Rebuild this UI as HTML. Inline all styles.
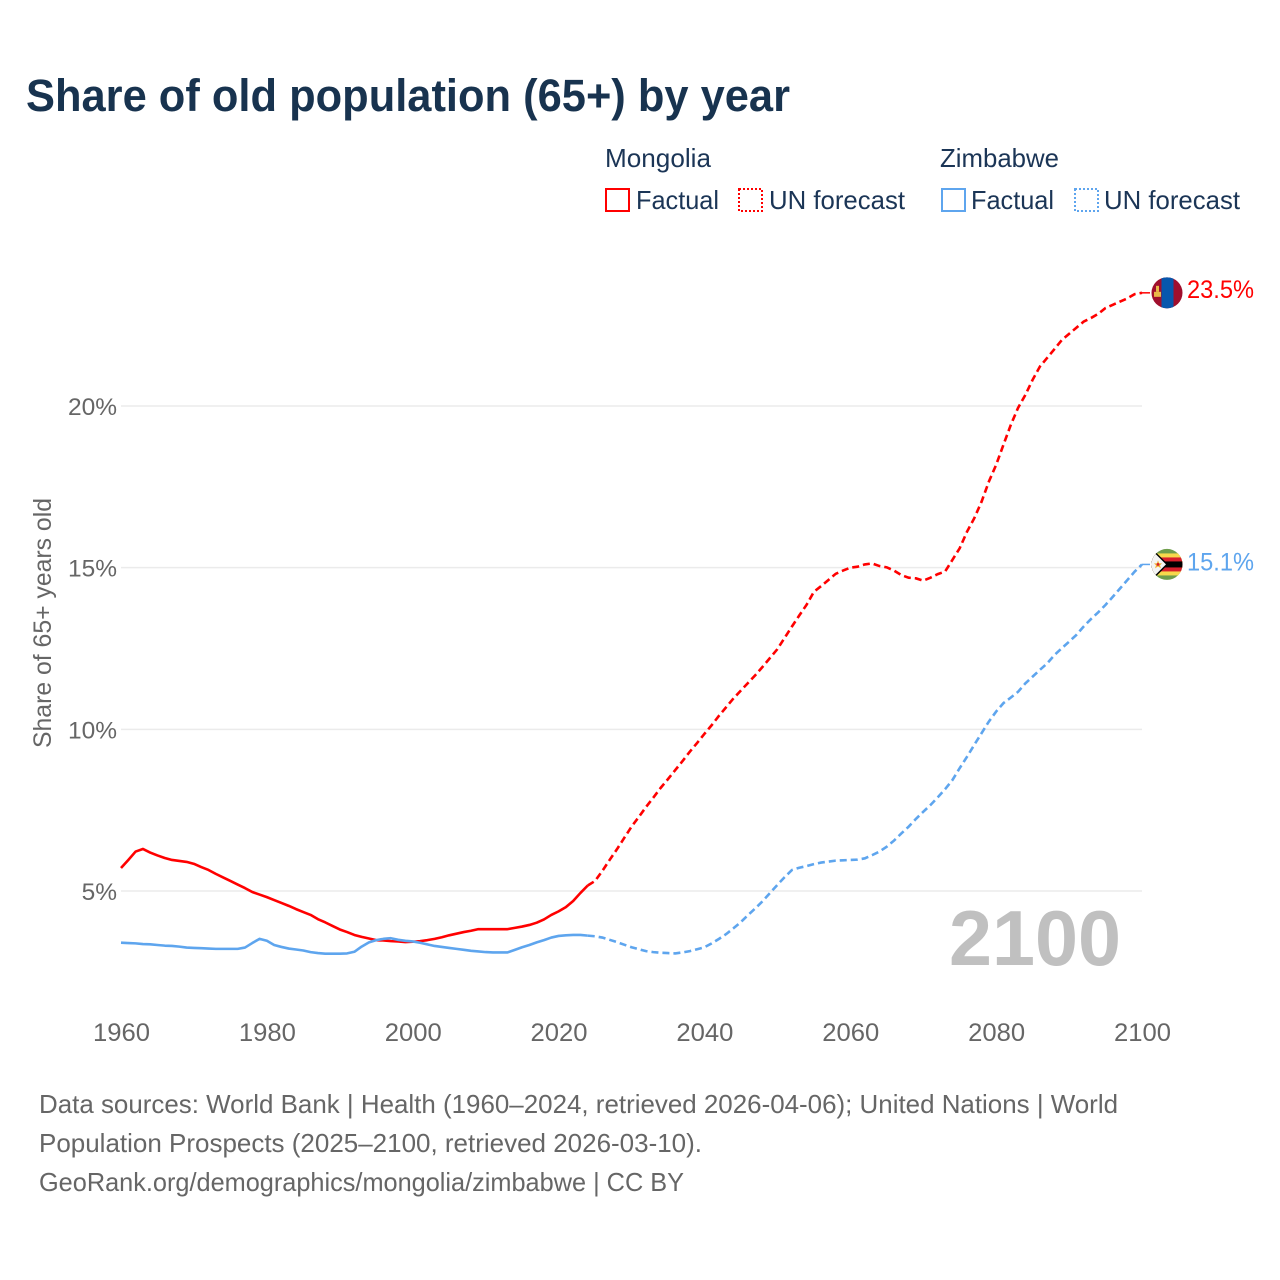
<!DOCTYPE html>
<html lang="en">
<head>
<meta charset="utf-8">
<title>Share of old population (65+) by year</title>
<style>
html,body{margin:0;padding:0;background:#fff;width:1280px;height:1280px;overflow:hidden}
svg{display:block}
text{font-family:"Liberation Sans",sans-serif}
</style>
</head>
<body>
<svg id="chart" xmlns="http://www.w3.org/2000/svg" width="1280" height="1280" viewBox="0 0 1280 1280">
  <rect width="1280" height="1280" fill="#fff"/>
  <text x="26" y="111" font-size="45" font-weight="700" fill="#18334f" textLength="764" lengthAdjust="spacingAndGlyphs">Share of old population (65+) by year</text>

  <g font-size="26" fill="#1b3556">
    <text x="605" y="167" textLength="106" lengthAdjust="spacingAndGlyphs">Mongolia</text>
    <text x="940" y="167" textLength="119" lengthAdjust="spacingAndGlyphs">Zimbabwe</text>
    <rect x="606" y="189" width="23" height="22" fill="none" stroke="#ff0000" stroke-width="2"/>
    <text x="636" y="209" textLength="83" lengthAdjust="spacingAndGlyphs">Factual</text>
    <rect x="739" y="189" width="23" height="22" fill="none" stroke="#ff0000" stroke-width="2" stroke-dasharray="2 2"/>
    <text x="769" y="209" textLength="136" lengthAdjust="spacingAndGlyphs">UN forecast</text>
    <rect x="942" y="189" width="23" height="22" fill="none" stroke="#5ea5ee" stroke-width="2"/>
    <text x="971" y="209" textLength="83" lengthAdjust="spacingAndGlyphs">Factual</text>
    <rect x="1075" y="189" width="23" height="22" fill="none" stroke="#5ea5ee" stroke-width="2" stroke-dasharray="2 2"/>
    <text x="1104" y="209" textLength="136" lengthAdjust="spacingAndGlyphs">UN forecast</text>
  </g>

  <g id="grid"></g>
  <g id="yticks" font-size="25" fill="#666"></g>
  <g id="xticks" font-size="25" fill="#666"></g>

  <text transform="translate(51,623) rotate(-90)" text-anchor="middle" font-size="25" fill="#666" textLength="250" lengthAdjust="spacingAndGlyphs">Share of 65+ years old</text>
  <text x="949" y="965" font-size="78" font-weight="700" fill="#c0c0c0" textLength="172" lengthAdjust="spacingAndGlyphs">2100</text>

  <g id="series"></g>

  <defs>
    <clipPath id="flag-clip"><circle cx="0" cy="0" r="15.5"/></clipPath>
  </defs>
  <g id="flag-mongolia">
    <g clip-path="url(#flag-clip)">
      <rect x="-16" y="-16" width="32" height="32" fill="#a00f2d"/>
      <rect x="-5.5" y="-16" width="12" height="32" fill="#0757ad"/>
      <rect x="-13" y="-1" width="7" height="5" fill="#e9b949"/>
      <rect x="-11" y="-7" width="3" height="6" fill="#e9b949"/>
    </g>
  </g>
  <g id="flag-zimbabwe">
    <g clip-path="url(#flag-clip)">
      <rect x="-16" y="-16" width="32" height="32" fill="#6f9e4c"/>
      <rect x="-16" y="-11" width="32" height="22" fill="#f7d94c"/>
      <rect x="-16" y="-7" width="32" height="14" fill="#d8202c"/>
      <rect x="-16" y="-3" width="32" height="6" fill="#000"/>
      <polygon points="-16,-17 1,0 -16,17" fill="#000"/>
      <polygon points="-16,-15 -1,0 -16,15" fill="#f4f4f4"/>
      <polygon points="-9,-4 -7.8,-1 -5,-1 -7,1 -6,4 -9,2 -12,4 -11,1 -13,-1 -10.2,-1" fill="#f2b233"/>
      <circle cx="-9" cy="0" r="1.4" fill="#d8202c"/>
    </g>
  </g>
  <text id="end-mongolia" x="1187" font-size="25" fill="#ff0000" textLength="67" lengthAdjust="spacingAndGlyphs"></text>
  <text id="end-zimbabwe" x="1187" font-size="25" fill="#5ea5ee" textLength="67" lengthAdjust="spacingAndGlyphs"></text>

  <g font-size="26" fill="#666">
    <text x="39" y="1113" textLength="1079" lengthAdjust="spacingAndGlyphs">Data sources: World Bank | Health (1960–2024, retrieved 2026-04-06); United Nations | World</text>
    <text x="39" y="1152" textLength="663" lengthAdjust="spacingAndGlyphs">Population Prospects (2025–2100, retrieved 2026-03-10).</text>
    <text x="39" y="1191" textLength="645" lengthAdjust="spacingAndGlyphs">GeoRank.org/demographics/mongolia/zimbabwe | CC BY</text>
  </g>
</svg>
<script>
const xTickYears = [1960, 1980, 2000, 2020, 2040, 2060, 2080, 2100];
const xTickLabels = ["1960", "1980", "2000", "2020", "2040", "2060", "2080", "2100"];
const yTickValues = [5, 10, 15, 20];
const yTickLabels = ["5%", "10%", "15%", "20%"];
const factualStartYear = 1960;
const forecastStartYear = 2024;
const mongoliaEndLabel = "23.5%";
const zimbabweEndLabel = "15.1%";

const mongoliaFactual = [
  5.71, 5.96, 6.22, 6.30, 6.19, 6.10, 6.02, 5.96, 5.93, 5.90,
  5.84, 5.74, 5.65, 5.53, 5.42, 5.31, 5.20, 5.09, 4.97, 4.89,
  4.81, 4.72, 4.63, 4.54, 4.44, 4.35, 4.26, 4.13, 4.03, 3.92,
  3.81, 3.73, 3.64, 3.58, 3.53, 3.48, 3.47, 3.45, 3.44, 3.42,
  3.43, 3.45, 3.48, 3.52, 3.57, 3.63, 3.68, 3.73, 3.77, 3.82,
  3.82, 3.82, 3.82, 3.82, 3.86, 3.90, 3.95, 4.02, 4.12, 4.26,
  4.37, 4.50, 4.69, 4.94, 5.17
];
const mongoliaForecast = [
  5.17, 5.31, 5.62, 5.96, 6.29, 6.64, 6.99, 7.29, 7.60, 7.89, 8.19,
  8.46, 8.74, 9.02, 9.31, 9.58, 9.86, 10.13, 10.42, 10.69, 10.96,
  11.20, 11.44, 11.68, 11.94, 12.21, 12.48, 12.83, 13.18, 13.52, 13.85,
  14.25, 14.43, 14.62, 14.81, 14.91, 15.00, 15.03, 15.10, 15.13, 15.05,
  15.01, 14.91, 14.77, 14.69, 14.67, 14.60, 14.69, 14.80, 14.88, 15.24,
  15.60, 16.11, 16.53, 17.04, 17.66, 18.18, 18.80, 19.41, 19.94, 20.34,
  20.81, 21.22, 21.49, 21.76, 22.04, 22.23, 22.42, 22.61, 22.72, 22.85,
  23.03, 23.13, 23.23, 23.33, 23.46, 23.50
];
const zimbabweFactual = [
  3.40, 3.39, 3.38, 3.36, 3.35, 3.33, 3.31, 3.30, 3.28, 3.25,
  3.24, 3.23, 3.22, 3.21, 3.21, 3.21, 3.21, 3.25, 3.39, 3.52,
  3.46, 3.33, 3.27, 3.22, 3.19, 3.16, 3.11, 3.08, 3.06, 3.06,
  3.06, 3.07, 3.12, 3.28, 3.41, 3.48, 3.52, 3.54, 3.49, 3.46,
  3.44, 3.40, 3.35, 3.30, 3.27, 3.24, 3.21, 3.18, 3.15, 3.13,
  3.11, 3.10, 3.10, 3.10, 3.18, 3.26, 3.33, 3.41, 3.48, 3.56,
  3.61, 3.63, 3.64, 3.64, 3.62
];
const zimbabweForecast = [
  3.62, 3.60, 3.56, 3.49, 3.42, 3.34, 3.26, 3.20, 3.14, 3.11, 3.09,
  3.08, 3.07, 3.10, 3.14, 3.20, 3.26, 3.38, 3.52, 3.67, 3.85,
  4.04, 4.26, 4.47, 4.69, 4.94, 5.19, 5.43, 5.65, 5.72, 5.77,
  5.83, 5.88, 5.91, 5.94, 5.95, 5.96, 5.97, 6.01, 6.11, 6.22,
  6.37, 6.56, 6.78, 6.99, 7.23, 7.45, 7.66, 7.90, 8.15, 8.43,
  8.80, 9.15, 9.52, 9.88, 10.24, 10.55, 10.81, 10.98, 11.16, 11.42,
  11.63, 11.84, 12.04, 12.30, 12.51, 12.71, 12.92, 13.18, 13.41, 13.62,
  13.85, 14.10, 14.36, 14.62, 14.88, 15.10
];

const NS = "http://www.w3.org/2000/svg";
const x = year => 121 + (year - 1960) * (1142 - 121) / 140;
const y = value => 891 - (value - 5) * (891 - 406) / 15;

const gridLayer = document.getElementById("grid");
const yLayer = document.getElementById("yticks");
const xLayer = document.getElementById("xticks");
const seriesLayer = document.getElementById("series");

yTickValues.forEach((value, i) => {
  const line = document.createElementNS(NS, "line");
  
  
  line.setAttribute("x1", x(1960));
  line.setAttribute("x2", x(2100));
  line.setAttribute("y1", y(value));
  line.setAttribute("y2", y(value));
  line.setAttribute("stroke", "#ebebeb");
  line.setAttribute("stroke-width", "1.5");
  gridLayer.appendChild(line);

  const label = document.createElementNS(NS, "text");
  
  
  label.setAttribute("x", 117);
  label.setAttribute("y", y(value) + 9);
  label.setAttribute("text-anchor", "end");
  label.setAttribute("font-size", "24.5");
  label.textContent = yTickLabels[i];
  yLayer.appendChild(label);
});

xTickYears.forEach((year, i) => {
  const label = document.createElementNS(NS, "text");
  
  
  label.setAttribute("x", x(year) + 0.5);
  label.setAttribute("y", 1041);
  label.setAttribute("text-anchor", "middle");
  label.setAttribute("textLength", "57");
  label.setAttribute("lengthAdjust", "spacingAndGlyphs");
  label.textContent = xTickLabels[i];
  xLayer.appendChild(label);
});

function pathFrom(values, startYear) {
  return values.map((v, i) => (i ? "L" : "M") + x(startYear + i).toFixed(2) + " " + y(v).toFixed(2)).join("");
}

const mongoliaFactualLine = document.createElementNS(NS, "path");


mongoliaFactualLine.setAttribute("d", pathFrom(mongoliaFactual, factualStartYear));
mongoliaFactualLine.setAttribute("fill", "none");
mongoliaFactualLine.setAttribute("stroke", "#ff0000");
mongoliaFactualLine.setAttribute("stroke-width", "2.6");
mongoliaFactualLine.setAttribute("stroke-linejoin", "round");
seriesLayer.appendChild(mongoliaFactualLine);

const zimbabweFactualLine = document.createElementNS(NS, "path");


zimbabweFactualLine.setAttribute("d", pathFrom(zimbabweFactual, factualStartYear));
zimbabweFactualLine.setAttribute("fill", "none");
zimbabweFactualLine.setAttribute("stroke", "#5ea5ee");
zimbabweFactualLine.setAttribute("stroke-width", "2.6");
zimbabweFactualLine.setAttribute("stroke-linejoin", "round");
seriesLayer.appendChild(zimbabweFactualLine);

const mongoliaForecastLine = document.createElementNS(NS, "path");


mongoliaForecastLine.setAttribute("d", pathFrom(mongoliaForecast, forecastStartYear));
mongoliaForecastLine.setAttribute("fill", "none");
mongoliaForecastLine.setAttribute("stroke", "#ff0000");
mongoliaForecastLine.setAttribute("stroke-width", "2.6");
mongoliaForecastLine.setAttribute("stroke-dasharray", "7 4");
seriesLayer.appendChild(mongoliaForecastLine);

const zimbabweForecastLine = document.createElementNS(NS, "path");


zimbabweForecastLine.setAttribute("d", pathFrom(zimbabweForecast, forecastStartYear));
zimbabweForecastLine.setAttribute("fill", "none");
zimbabweForecastLine.setAttribute("stroke", "#5ea5ee");
zimbabweForecastLine.setAttribute("stroke-width", "2.6");
zimbabweForecastLine.setAttribute("stroke-dasharray", "7 4");
seriesLayer.appendChild(zimbabweForecastLine);

const mongoliaLast = mongoliaForecast[mongoliaForecast.length - 1];
const zimbabweLast = zimbabweForecast[zimbabweForecast.length - 1];

const mongoliaConnector = document.createElementNS(NS, "line");


mongoliaConnector.setAttribute("x1", x(2100));
mongoliaConnector.setAttribute("x2", x(2100) + 8);
mongoliaConnector.setAttribute("y1", y(mongoliaLast));
mongoliaConnector.setAttribute("y2", y(mongoliaLast));
mongoliaConnector.setAttribute("stroke", "#ff0000");
mongoliaConnector.setAttribute("stroke-width", "1.5");
seriesLayer.appendChild(mongoliaConnector);

const zimbabweConnector = document.createElementNS(NS, "line");


zimbabweConnector.setAttribute("x1", x(2100));
zimbabweConnector.setAttribute("x2", x(2100) + 8);
zimbabweConnector.setAttribute("y1", y(zimbabweLast));
zimbabweConnector.setAttribute("y2", y(zimbabweLast));
zimbabweConnector.setAttribute("stroke", "#5ea5ee");
zimbabweConnector.setAttribute("stroke-width", "1.5");
seriesLayer.appendChild(zimbabweConnector);

document.getElementById("flag-mongolia").setAttribute("transform", "translate(" + (x(2100) + 25) + "," + y(mongoliaLast) + ")");
document.getElementById("flag-zimbabwe").setAttribute("transform", "translate(" + (x(2100) + 25) + "," + y(zimbabweLast) + ")");

const mongoliaEnd = document.getElementById("end-mongolia");
mongoliaEnd.setAttribute("y", y(mongoliaLast) + 5);
mongoliaEnd.textContent = mongoliaEndLabel;
const zimbabweEnd = document.getElementById("end-zimbabwe");
zimbabweEnd.setAttribute("y", y(zimbabweLast) + 6);
zimbabweEnd.textContent = zimbabweEndLabel;
</script>
</body>
</html>
